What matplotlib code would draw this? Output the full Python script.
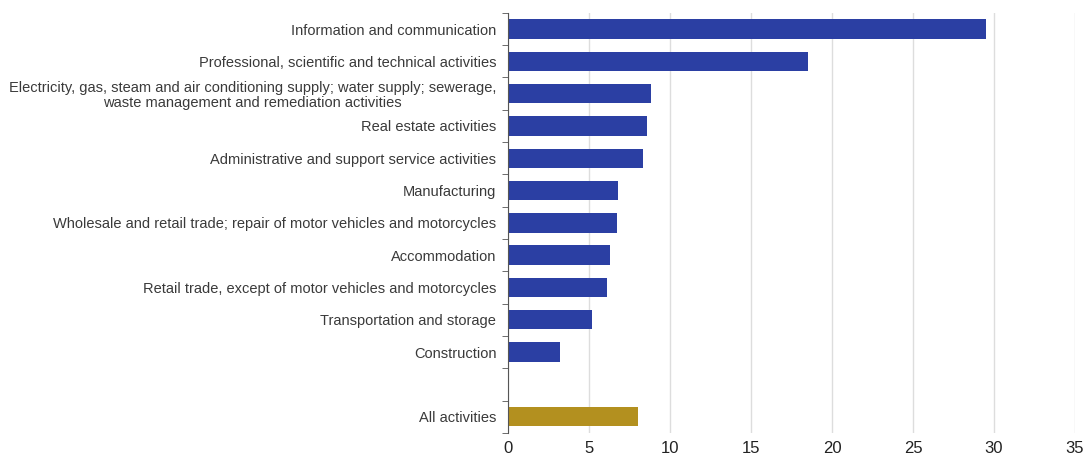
import matplotlib.pyplot as plt
import numpy as np

plt.rcParams["font.family"] = ["Liberation Sans", "DejaVu Sans"]

# Sectors, top to bottom
sectors = [
    "Information and communication",
    "Professional, scientific and technical activities",
    "Electricity, gas, steam and air conditioning supply; water supply; sewerage,\n"
    "waste management and remediation activities",
    "Real estate activities",
    "Administrative and support service activities",
    "Manufacturing",
    "Wholesale and retail trade; repair of motor vehicles and motorcycles",
    "Accommodation",
    "Retail trade, except of motor vehicles and motorcycles",
    "Transportation and storage",
    "Construction",
]
sector_values = [29.5, 18.5, 8.85, 8.55, 8.3, 6.8, 6.7, 6.3, 6.1, 5.2, 3.2]

total_label = "All activities"
total_value = 8.05

BLUE = "#2b3fa3"
GOLD = "#b3901f"

fig = plt.figure(figsize=(10.88, 4.59), dpi=100)
ax = fig.add_axes([0.467, 0.057, 0.521, 0.915])

pos = np.arange(len(sectors))
total_pos = len(sectors) + 1  # leave one empty slot before the total

ax.barh(pos, sector_values, height=0.6, color=BLUE, zorder=3)
ax.barh([total_pos], [total_value], height=0.6, color=GOLD, zorder=3)

ax.set_yticks(list(pos) + [total_pos])
ax.set_yticklabels(sectors + [total_label], fontsize=10.5, color="#3a3a3a",
                   multialignment="center", linespacing=1.05)
ax.set_yticks(np.arange(-0.5, total_pos + 1, 1.0), minor=True)
ax.tick_params(axis="y", which="major", length=0, pad=8.5)
ax.tick_params(axis="y", which="minor", length=4, color="#555555", direction="out")
ax.set_ylim(total_pos + 0.5, -0.5)

ax.set_xlim(0, 35)
ax.set_xticks(np.arange(0, 36, 5))
ax.tick_params(axis="x", length=0, labelsize=12, colors="#222222", pad=6)
ax.grid(axis="x", color="#dddddd", linewidth=1, zorder=0)

for side in ("top", "right", "bottom"):
    ax.spines[side].set_visible(False)
ax.spines["left"].set_color("#555555")
ax.spines["left"].set_zorder(4)

fig.savefig("out.png", dpi=100)
